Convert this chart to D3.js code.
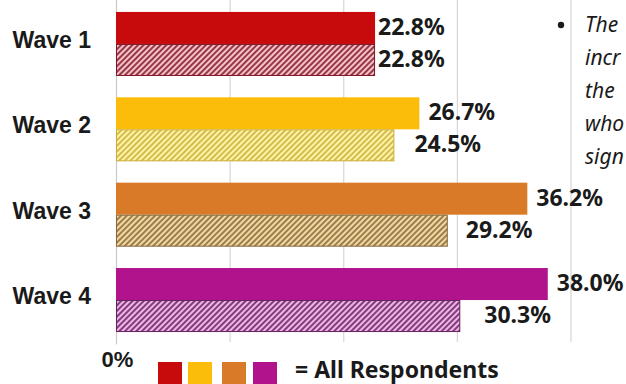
<!DOCTYPE html>
<html>
<head>
<meta charset="utf-8">
<script src="https://cdn.jsdelivr.net/npm/d3@7/dist/d3.min.js"></script>
<style>
  html, body { margin: 0; padding: 0; background: #ffffff; }
  svg { display: block; font-family: "Noto Sans", "Open Sans", "DejaVu Sans", sans-serif; }
</style>
</head>
<body>
<svg id="chart" width="626" height="384"></svg>
<script>
// Survey waves and the two series shown for each wave (percent)
const waves = ["Wave 1", "Wave 2", "Wave 3", "Wave 4"];
const allRespondents = [22.8, 26.7, 36.2, 38.0];
const subgroup = [22.8, 24.5, 29.2, 30.3];
const xTicks = [0, 10, 20, 30, 40];
const noteLines = ["The", "incr", "the", "who", "sign"];
const legendLabel = "= All Respondents";

// One palette per wave: solid fill, hatch line colour, hatch background
const palette = [
  { solid: "#c70a0c", line: "#7e1424", bg: "#f5c2c9" },
  { solid: "#fcbd0a", line: "#c9ae38", bg: "#fff3a6" },
  { solid: "#d97a28", line: "#86663a", bg: "#f2d9a0" },
  { solid: "#b0138b", line: "#64205c", bg: "#f0b4e8" }
];

const svg = d3.select("#chart");
const plotLeft = 116, plotBottom = 342;

const x = d3.scaleLinear().domain([0, 40]).range([plotLeft, 570.5]);
const y = d3.scaleBand().domain(waves).range([0, 344]).paddingInner(0.25).paddingOuter(0.14);
const ySeries = d3.scaleBand().domain(["all", "sub"]).range([0, y.bandwidth()]);

// Diagonal hatch patterns
const defs = svg.append("defs");
palette.forEach((p, i) => {
  const pat = defs.append("pattern")
    .attr("id", "hatch" + i)
    .attr("patternUnits", "userSpaceOnUse")
    .attr("width", 4).attr("height", 4)
    .attr("patternTransform", "rotate(45)");
  pat.append("rect").attr("width", 4).attr("height", 4).attr("fill", p.bg);
  pat.append("line").attr("x1", 1).attr("y1", 0).attr("x2", 1).attr("y2", 4)
    .attr("stroke", p.line).attr("stroke-width", 1.6);
});

// Vertical gridlines with ticks running just below the bars
const xAxis = svg.append("g")
  .attr("transform", `translate(0,${plotBottom})`)
  .call(d3.axisBottom(x).tickValues(xTicks)
    .tickSize(-plotBottom).tickSizeOuter(0).tickPadding(9)
    .tickFormat(d => d === 0 ? "0%" : ""));
xAxis.select(".domain").remove();
xAxis.selectAll(".tick line").attr("stroke", "#d6d6d6").attr("stroke-width", 1.2);
xAxis.selectAll(".tick text")
  .attr("fill", "#1a1a1a").attr("font-size", 22).attr("font-weight", 700)
  .attr("dx", 1);

// Category axis
const yAxis = svg.append("g")
  .attr("transform", `translate(${plotLeft},0)`)
  .call(d3.axisLeft(y).tickSize(0).tickPadding(25));
yAxis.select(".domain").attr("stroke", "#c8c8c8");
yAxis.selectAll(".tick text")
  .attr("fill", "#1a1a1a").attr("font-size", 23).attr("font-weight", 700)
  .attr("dy", "0.18em");

// Bars
const rows = waves.map((w, i) => ({ wave: w, i, all: allRespondents[i], sub: subgroup[i] }));
const groups = svg.append("g").selectAll("g").data(rows).join("g")
  .attr("transform", d => `translate(0,${y(d.wave)})`);

groups.append("rect")
  .attr("x", x(0)).attr("y", ySeries("all"))
  .attr("width", d => x(d.all) - x(0)).attr("height", ySeries.bandwidth())
  .attr("fill", d => palette[d.i].solid);

groups.append("rect")
  .attr("x", x(0) + 0.5).attr("y", ySeries("sub") + 0.5)
  .attr("width", d => x(d.sub) - x(0) - 1).attr("height", ySeries.bandwidth() - 1)
  .attr("fill", d => `url(#hatch${d.i})`)
  .attr("stroke", d => palette[d.i].line).attr("stroke-width", 1);

// Value labels (small per-wave nudges keep them clear of the bars)
const nudgeAll = [3, 9, 9, 9];
const nudgeSub = [3, 20, 18, 24];
const fmt = v => v.toFixed(1) + "%";
groups.append("text")
  .attr("x", d => x(d.all) + nudgeAll[d.i])
  .attr("y", ySeries("all") + ySeries.bandwidth() / 2)
  .attr("dy", "0.3em")
  .attr("font-size", 23).attr("font-weight", 700).attr("fill", "#1a1a1a")
  .text(d => fmt(d.all));
groups.append("text")
  .attr("x", d => x(d.sub) + nudgeSub[d.i])
  .attr("y", ySeries("sub") + ySeries.bandwidth() / 2)
  .attr("dy", "0.3em")
  .attr("font-size", 23).attr("font-weight", 700).attr("fill", "#1a1a1a")
  .text(d => fmt(d.sub));

// Legend for the solid bars
const legend = svg.append("g").attr("transform", "translate(158,362)");
const swatchX = [0, 30, 64, 95];
palette.forEach((p, i) => {
  legend.append("rect").attr("x", swatchX[i]).attr("y", 0)
    .attr("width", 24).attr("height", 24).attr("fill", p.solid);
});
legend.append("text").attr("x", 137).attr("y", 16)
  .attr("font-size", 23).attr("font-weight", 700).attr("fill", "#1a1a1a")
  .text(legendLabel);

// Side note
const note = svg.append("g").attr("transform", "translate(561,0)");
note.append("circle").attr("cx", 0).attr("cy", 25).attr("r", 3.2).attr("fill", "#1a1a1a");
note.selectAll("text").data(noteLines).join("text")
  .attr("x", 24).attr("y", (d, i) => 32 + i * 33)
  .attr("font-size", 21).attr("font-style", "italic").attr("fill", "#1a1a1a")
  .text(d => d);
</script>
</body>
</html>
